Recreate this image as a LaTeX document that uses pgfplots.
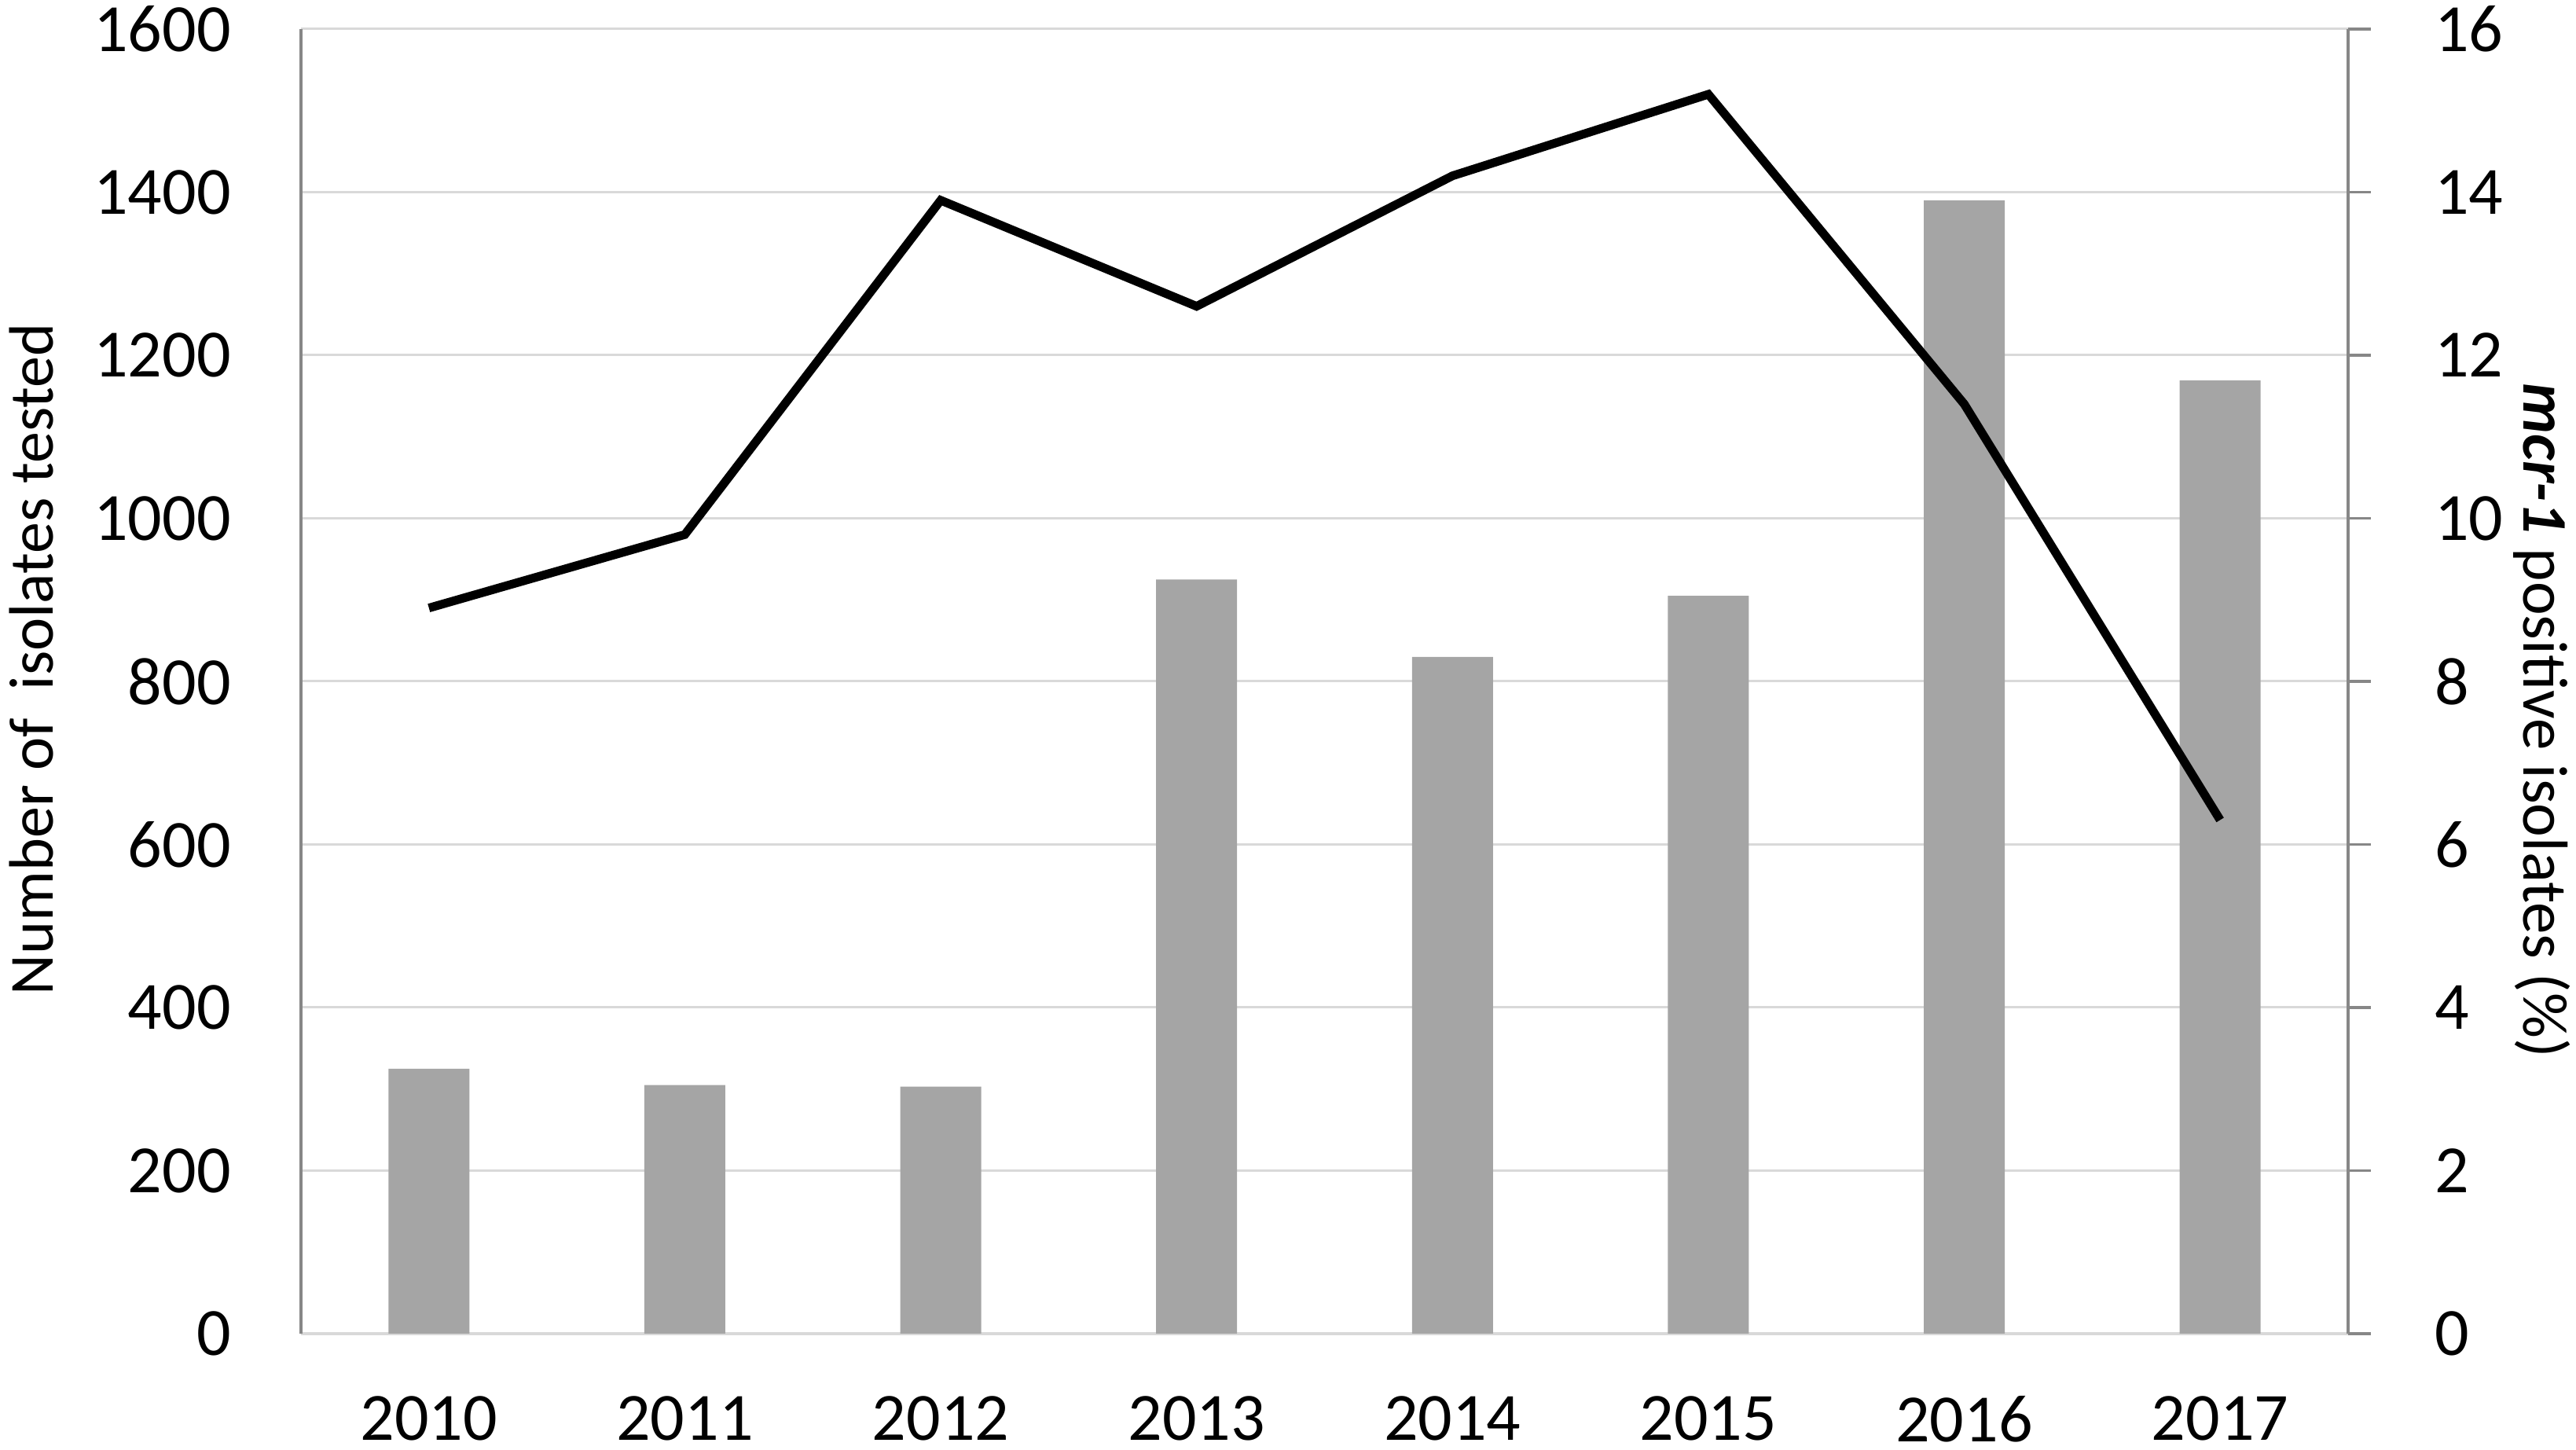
\documentclass[border=0pt]{standalone}
\usepackage{pgfplots}
\pgfplotsset{compat=1.18}
\usepackage{fontspec}
\setmainfont{Carlito}
\definecolor{bargray}{HTML}{A5A5A5}
\definecolor{gridgray}{HTML}{D9D9D9}
\definecolor{axisgray}{HTML}{878787}
\pgfplotsset{
  every tick label/.append style={font=\fontsize{8.6}{10}\selectfont},
  /pgf/number format/assume math mode=true,
  /pgf/number format/1000 sep={},
}
\begin{document}
\begin{tikzpicture}
\begin{axis}[
  at={(0,0)}, anchor=south west,
  width=260.5pt, height=166pt, scale only axis,
  xmin=-0.5, xmax=7.5, ymin=0, ymax=1600,
  axis x line*=bottom, axis y line*=left,
  x axis line style={draw=gridgray, line width=0.45pt},
  y axis line style={draw=axisgray, line width=0.35pt},
  xtick={0,...,7},
  xticklabels={2010,2011,2012,2013,2014,2015,2016,2017},
  ytick={0,200,...,1600},
  tick align=inside,
  tick style={draw=none},
  ymajorgrids, grid style={draw=gridgray, line width=0.3pt},
  yticklabel style={xshift=-5.4pt},
  xticklabel style={yshift=-4.4pt},
  ylabel={Number of\ \ isolates tested},
  ylabel style={at={(axis description cs:-0.1317,0.517)}, anchor=center, font=\fontsize{8.0}{10}\selectfont},
]
\addplot[ybar, bar width=10.3pt, fill=bargray, draw=none] coordinates {
  (0,325) (1,305) (2,303) (3,925) (4,830) (5,905) (6,1390) (7,1169)
};
\end{axis}
\begin{axis}[
  at={(0,0)}, anchor=south west,
  width=260.5pt, height=166pt, scale only axis,
  xmin=-0.5, xmax=7.5, ymin=0, ymax=16,
  axis x line=none, axis y line*=right,
  y axis line style={draw=axisgray, line width=0.35pt},
  ytick={0,2,...,16},
  tick align=outside,
  major tick length=2.9pt,
  ytick style={draw=axisgray, line width=0.35pt},
  yticklabel style={xshift=4.6pt},
  ylabel={\textbf{\textit{mcr-1}} positive isolates (\%)},
  ylabel style={at={(axis description cs:1.0948,0.47)}, anchor=center, rotate=180, font=\fontsize{8.1}{10}\selectfont},
]
\addplot[black, line width=1.1pt, mark=none] coordinates {
  (0,8.9) (1,9.8) (2,13.9) (3,12.6) (4,14.2) (5,15.2) (6,11.4) (7,6.3)
};
\end{axis}
\pgfresetboundingbox
\path (-38.3pt,-14.8pt) rectangle (289.5pt,169.7pt);
\end{tikzpicture}
\end{document}
